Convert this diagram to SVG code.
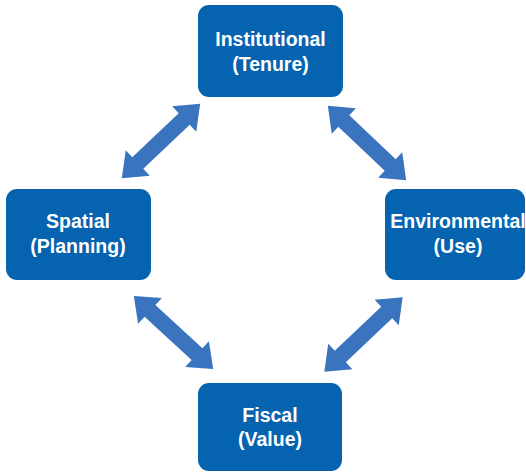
<svg xmlns="http://www.w3.org/2000/svg" xmlns:xlink="http://www.w3.org/1999/xlink" width="526" height="472" viewBox="0 0 526 472">
<defs>
<style>
.box{fill:#0563b0;}
.lbl{fill:#ffffff;font-family:"Liberation Sans",Arial,sans-serif;font-weight:bold;font-size:19.5px;text-anchor:middle;}
.arr{fill:#3a74be;}
</style>
<path id="dblarrow" d="M -54 0 L -32 -17.5 L -32 -8 L 32 -8 L 32 -17.5 L 54 0 L 32 17.5 L 32 8 L -32 8 L -32 17.5 Z"/>
</defs>
<rect width="526" height="472" fill="#ffffff"/>
<g id="connectors" class="arr">
<use xlink:href="#dblarrow" transform="translate(161,141) rotate(-43.5)"/>
<use xlink:href="#dblarrow" transform="translate(367,143) rotate(43.5)"/>
<use xlink:href="#dblarrow" transform="translate(173.5,332.5) rotate(42.7)"/>
<use xlink:href="#dblarrow" transform="translate(363.5,334.5) rotate(-43.5)"/>
</g>
<g id="institutional">
<rect class="box" x="198" y="5" width="145" height="92" rx="11"/>
<text class="lbl" x="270.5" y="46">Institutional</text>
<text class="lbl" x="270.5" y="71">(Tenure)</text>
</g>
<g id="spatial">
<rect class="box" x="6" y="189" width="145" height="91" rx="11"/>
<text class="lbl" x="78" y="228">Spatial</text>
<text class="lbl" x="78" y="253">(Planning)</text>
</g>
<g id="environmental">
<rect class="box" x="385" y="189" width="140" height="91" rx="11"/>
<text class="lbl" x="458" y="228">Environmental</text>
<text class="lbl" x="458" y="253">(Use)</text>
</g>
<g id="fiscal">
<rect class="box" x="198" y="383" width="144" height="88" rx="11"/>
<text class="lbl" x="270" y="422">Fiscal</text>
<text class="lbl" x="270" y="446">(Value)</text>
</g>
</svg>
